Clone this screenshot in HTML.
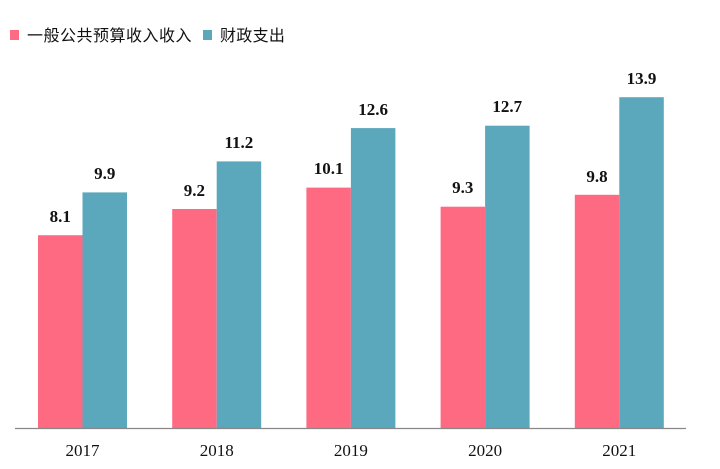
<!DOCTYPE html>
<html><head><meta charset="utf-8"><style>
html,body{margin:0;padding:0;background:#fff;}
svg{display:block;}
</style></head><body>
<svg width="720" height="469" viewBox="0 0 720 469" xmlns="http://www.w3.org/2000/svg">
<rect x="0" y="0" width="720" height="469" fill="#fff"/>
<!-- legend -->
<rect x="10" y="30" width="9" height="10" fill="#FF6A83"/>
<text x="27" y="41" font-family="Liberation Sans, 'Noto Sans CJK SC', sans-serif" font-size="16" letter-spacing="0.5" fill="#111">一般公共预算收入收入</text>
<rect x="203" y="30" width="9" height="10" fill="#5BA7BC"/>
<text x="220" y="41" font-family="Liberation Sans, 'Noto Sans CJK SC', sans-serif" font-size="16" letter-spacing="0.3" fill="#111">财政支出</text>
<!-- bars -->
<g>
<rect x="38" y="235.2" width="44.5" height="192.8" fill="#FF6A83"/>
<rect x="82.5" y="192.4" width="44.5" height="235.6" fill="#5BA7BC"/>
<rect x="172.2" y="209.0" width="44.5" height="219.0" fill="#FF6A83"/>
<rect x="216.7" y="161.4" width="44.5" height="266.6" fill="#5BA7BC"/>
<rect x="306.4" y="187.6" width="44.5" height="240.4" fill="#FF6A83"/>
<rect x="350.9" y="128.1" width="44.5" height="299.9" fill="#5BA7BC"/>
<rect x="440.6" y="206.7" width="44.5" height="221.3" fill="#FF6A83"/>
<rect x="485.1" y="125.7" width="44.5" height="302.3" fill="#5BA7BC"/>
<rect x="574.8" y="194.8" width="44.5" height="233.2" fill="#FF6A83"/>
<rect x="619.3" y="97.2" width="44.5" height="330.8" fill="#5BA7BC"/>
</g>
<line x1="15" y1="428.5" x2="686" y2="428.5" stroke="#888" stroke-width="1.2"/>
<!-- value labels -->
<g font-family="Liberation Serif, serif" font-size="17" font-weight="bold" fill="#111" text-anchor="middle">
<text x="60.2" y="222">8.1</text>
<text x="104.7" y="179">9.9</text>
<text x="194.4" y="196">9.2</text>
<text x="238.9" y="148">11.2</text>
<text x="328.6" y="174">10.1</text>
<text x="373.1" y="115">12.6</text>
<text x="462.8" y="193">9.3</text>
<text x="507.3" y="112">12.7</text>
<text x="597" y="182">9.8</text>
<text x="641.5" y="84">13.9</text>
</g>
<!-- year labels -->
<g font-family="Liberation Serif, serif" font-size="17" fill="#111" text-anchor="middle">
<text x="82.5" y="456">2017</text>
<text x="216.7" y="456">2018</text>
<text x="350.9" y="456">2019</text>
<text x="485.1" y="456">2020</text>
<text x="619.3" y="456">2021</text>
</g>
</svg>
</body></html>
